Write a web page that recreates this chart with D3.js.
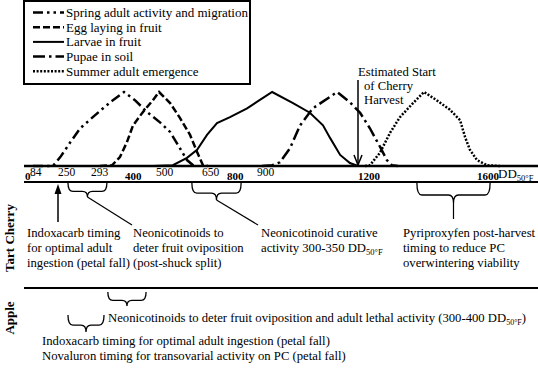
<!DOCTYPE html>
<html>
<head>
<meta charset="utf-8">
<script src="https://cdn.jsdelivr.net/npm/d3@7"></script>
<style>
  body { margin: 0; background: #fff; }
  svg { display: block; }
  svg text { font-family: "Liberation Serif", "DejaVu Serif", "Times New Roman", serif; }
</style>
</head>
<body>
<svg id="chart" width="538" height="368"></svg>
<script>
// Degree-day marks on the axis. The original figure is schematic, not to scale.
const tickValues = [0, 84, 250, 293, 400, 500, 650, 800, 900, 1200, 1600];
const boldTicks = [0, 400, 800, 1200, 1600];

const stageNames = [
  'Spring adult activity and migration',
  'Egg laying in fruit',
  'Larvae in fruit',
  'Pupae in soil',
  'Summer adult emergence'
];

// Each curve: [degree-days, relative activity].
const springAdult = [[102, 0], [220, 0], [253, 0.12], [266, 0.32], [279, 0.51], [296, 0.65], [331, 0.78],
  [362, 0.89], [397, 1], [432, 0.89], [471, 0.73], [513, 0.59], [546, 0.46], [578, 0.24], [601, 0.08], [621, 0.01], [634, 0]];
const eggLaying = [[321, 0], [359, 0.01], [384, 0.12], [406, 0.32], [426, 0.55], [458, 0.73], [490, 0.89],
  [510, 1], [546, 0.85], [578, 0.65], [611, 0.42], [634, 0.19], [656, 0.01], [686, 0]];
const larvae = [[490, 0], [555, 0.01], [601, 0.11], [634, 0.22], [680, 0.42], [740, 0.58], [810, 0.66],
  [867, 0.78], [945, 1], [1007, 0.85], [1057, 0.72], [1096, 0.55], [1117, 0.38], [1147, 0.15], [1176, 0.04], [1200, 0]];
const pupae = [[915, 0], [945, 0.01], [968, 0.05], [998, 0.24], [1028, 0.55], [1066, 0.78], [1138, 1],
  [1176, 0.86], [1207, 0.72], [1240, 0.51], [1274, 0.26], [1297, 0.08], [1314, 0.01], [1334, 0]];
const summerAdult = [[1224, 0], [1240, 0.01], [1274, 0.18], [1308, 0.45], [1341, 0.66], [1385, 0.85], [1422, 1],
  [1464, 0.89], [1509, 0.76], [1543, 0.62], [1560, 0.39], [1576, 0.22], [1600, 0.08], [1634, 0.01], [1677, 0]];

const harvestStart = 1200;
const indoxacarbCherry = 250;
const cherryNeonicRange = [263, 343];
const cherryCurativeRange = [617, 847];
const pyriproxyfenRange = [1398, 1644];
const appleNeonicRange = [346, 468];
const appleIndoxRange = [263, 334];

const serif = "'Liberation Serif', 'DejaVu Serif', 'Times New Roman', serif";
const fontSize = 12.7;
const svg = d3.select('#chart').attr('font-family', serif);

// Piecewise scale: tick marks sit where the figure puts them.
const x = d3.scaleLinear()
  .domain(tickValues)
  .range([25, 30, 58, 91, 125, 156, 202, 227, 257, 358, 477]);
const y = d3.scaleLinear().domain([0, 1]).range([166, 92]);

const stageStyles = [
  { dash: '10,4,2.5,4,2.5,4', width: 2.5 },
  { dash: '7,3', width: 2.5 },
  { dash: null, width: 2 },
  { dash: '12,4,2.5,4', width: 2.5 },
  { dash: '2,1.6', width: 2.5 }
];
const stageData = [springAdult, eggLaying, larvae, pupae, summerAdult];

// Legend box
svg.append('rect')
  .attr('x', 24).attr('y', 1)
  .attr('width', 226).attr('height', 83)
  .attr('fill', 'none').attr('stroke', '#000').attr('stroke-width', 2);

const legendRow = svg.selectAll('.legend-row')
  .data(stageNames)
  .join('g')
  .attr('class', 'legend-row')
  .attr('transform', (d, i) => `translate(0,${12.5 + i * 14.7})`);

legendRow.append('line')
  .attr('x1', 33).attr('x2', 64)
  .attr('stroke', '#000')
  .attr('stroke-width', (d, i) => stageStyles[i].width)
  .attr('stroke-dasharray', (d, i) => stageStyles[i].dash);

legendRow.append('text')
  .attr('x', 66).attr('y', 4.5)
  .attr('font-size', 13)
  .text(d => d);

// Activity curves
const line = d3.line()
  .x(d => x(d[0]))
  .y(d => y(d[1]));

svg.selectAll('.stage')
  .data(stageData)
  .join('path')
  .attr('class', 'stage')
  .attr('d', line)
  .attr('fill', 'none')
  .attr('stroke', '#000')
  .attr('stroke-width', (d, i) => stageStyles[i].width)
  .attr('stroke-dasharray', (d, i) => stageStyles[i].dash);

// Axis lines
const hLines = [166, 182, 288];
svg.selectAll('.hline')
  .data(hLines)
  .join('line')
  .attr('class', 'hline')
  .attr('x1', 24).attr('x2', 538)
  .attr('y1', d => d).attr('y2', d => d)
  .attr('stroke', '#000')
  .attr('stroke-width', (d, i) => i === 0 ? 2.5 : 2);

svg.selectAll('.tick-label')
  .data(tickValues)
  .join('text')
  .attr('class', 'tick-label')
  .attr('x', d => x(d))
  .attr('y', d => boldTicks.includes(d) ? 180 : 176)
  .attr('font-size', d => boldTicks.includes(d) ? 11 : 11.5)
  .attr('font-weight', d => boldTicks.includes(d) ? 'bold' : 'normal')
  .text(d => d);

const ddUnit = svg.append('text')
  .attr('x', x(1600) + 21).attr('y', 178)
  .attr('font-size', 13)
  .text('DD');
ddUnit.append('tspan').attr('dy', 3).attr('font-size', 8.5).text('50°F');

// Harvest arrow
svg.append('line')
  .attr('x1', x(harvestStart)).attr('x2', x(harvestStart))
  .attr('y1', 80).attr('y2', 165)
  .attr('stroke', '#000').attr('stroke-width', 1.5);
svg.append('path')
  .attr('d', `M${x(harvestStart) - 4},155 L${x(harvestStart)},165 L${x(harvestStart) + 4},155`)
  .attr('fill', 'none').attr('stroke', '#000').attr('stroke-width', 1.5);

const harvestText = svg.append('text')
  .attr('font-size', fontSize);
['Estimated Start', 'of Cherry', 'Harvest'].forEach((t, i) => {
  harvestText.append('tspan')
    .attr('x', i === 0 ? x(harvestStart) : x(harvestStart) + 6)
    .attr('y', 76 + i * 14)
    .text(t);
});

// Curly brace pointing down, ends at y0.
function brace(x1, x2, y0, depth) {
  const ym = y0 + depth * 0.6;
  const yt = y0 + depth;
  const xm = (x1 + x2) / 2;
  const r = Math.min(5, (x2 - x1) / 5);
  return `M${x1},${y0} Q${x1},${ym} ${x1 + r},${ym} L${xm - r},${ym} Q${xm},${ym} ${xm},${yt}` +
    ` Q${xm},${ym} ${xm + r},${ym} L${x2 - r},${ym} Q${x2},${ym} ${x2},${y0}`;
}

function drawBrace(range, y0, depth) {
  svg.append('path')
    .attr('d', brace(x(range[0]), x(range[1]), y0, depth))
    .attr('fill', 'none').attr('stroke', '#000').attr('stroke-width', 1.3);
  return { x: (x(range[0]) + x(range[1])) / 2, y: y0 + depth };
}

function textBlock(lines, x0, y0, step) {
  const t = svg.append('text').attr('font-size', fontSize);
  lines.forEach((l, i) => {
    t.append('tspan').attr('x', x0).attr('y', y0 + i * step).text(l);
  });
  return t;
}

// Tart cherry annotations
const ix = x(indoxacarbCherry);
svg.append('line')
  .attr('x1', ix).attr('x2', ix).attr('y1', 192).attr('y2', 222)
  .attr('stroke', '#000').attr('stroke-width', 1.5);
svg.append('path')
  .attr('d', `M${ix},184 L${ix - 3.5},194 L${ix + 3.5},194 Z`)
  .attr('fill', '#000');
textBlock(['Indoxacarb timing', 'for optimal adult', 'ingestion (petal fall)'], 27, 237, 15);

const b1 = drawBrace(cherryNeonicRange, 183, 14);
svg.append('line')
  .attr('x1', b1.x).attr('y1', b1.y).attr('x2', 132).attr('y2', 225)
  .attr('stroke', '#000').attr('stroke-width', 1.2);
textBlock(['Neonicotinoids to', 'deter fruit oviposition', '(post-shuck split)'], 133, 237, 15);

const b2 = drawBrace(cherryCurativeRange, 183, 17);
svg.append('line')
  .attr('x1', b2.x).attr('y1', b2.y).attr('x2', 258).attr('y2', 225)
  .attr('stroke', '#000').attr('stroke-width', 1.2);
const cur = textBlock(['Neonicotinoid curative', 'activity 300-350 DD'], 261, 237, 15);
cur.append('tspan').attr('dy', 3).attr('font-size', 8.5).text('50°F');

const b3 = drawBrace(pyriproxyfenRange, 183, 20);
svg.append('line')
  .attr('x1', b3.x).attr('y1', b3.y).attr('x2', b3.x).attr('y2', 219)
  .attr('stroke', '#000').attr('stroke-width', 1.2);
textBlock(['Pyriproxyfen post-harvest', 'timing to reduce PC', 'overwintering viability'], 403, 237, 15);

// Apple annotations
drawBrace(appleNeonicRange, 292, 14);
drawBrace(appleIndoxRange, 315, 17);
const an = svg.append('text')
  .attr('x', 108).attr('y', 322)
  .attr('font-size', fontSize)
  .text('Neonicotinoids to deter fruit oviposition and adult lethal activity (300-400 DD');
an.append('tspan').attr('dy', 3).attr('font-size', 8).text('50°F');
an.append('tspan').attr('dy', -3).text(')');
textBlock(['Indoxacarb timing for optimal adult ingestion (petal fall)',
  'Novaluron timing for transovarial activity on PC (petal fall)'], 42, 345, 15);

// Row labels
const rowLabels = [['Tart Cherry', 238], ['Apple', 318]];
svg.selectAll('.row-label')
  .data(rowLabels)
  .join('text')
  .attr('class', 'row-label')
  .attr('transform', d => `translate(14,${d[1]}) rotate(-90)`)
  .attr('text-anchor', 'middle')
  .attr('font-size', 13)
  .attr('font-weight', 'bold')
  .text(d => d[0]);
</script>
</body>
</html>
